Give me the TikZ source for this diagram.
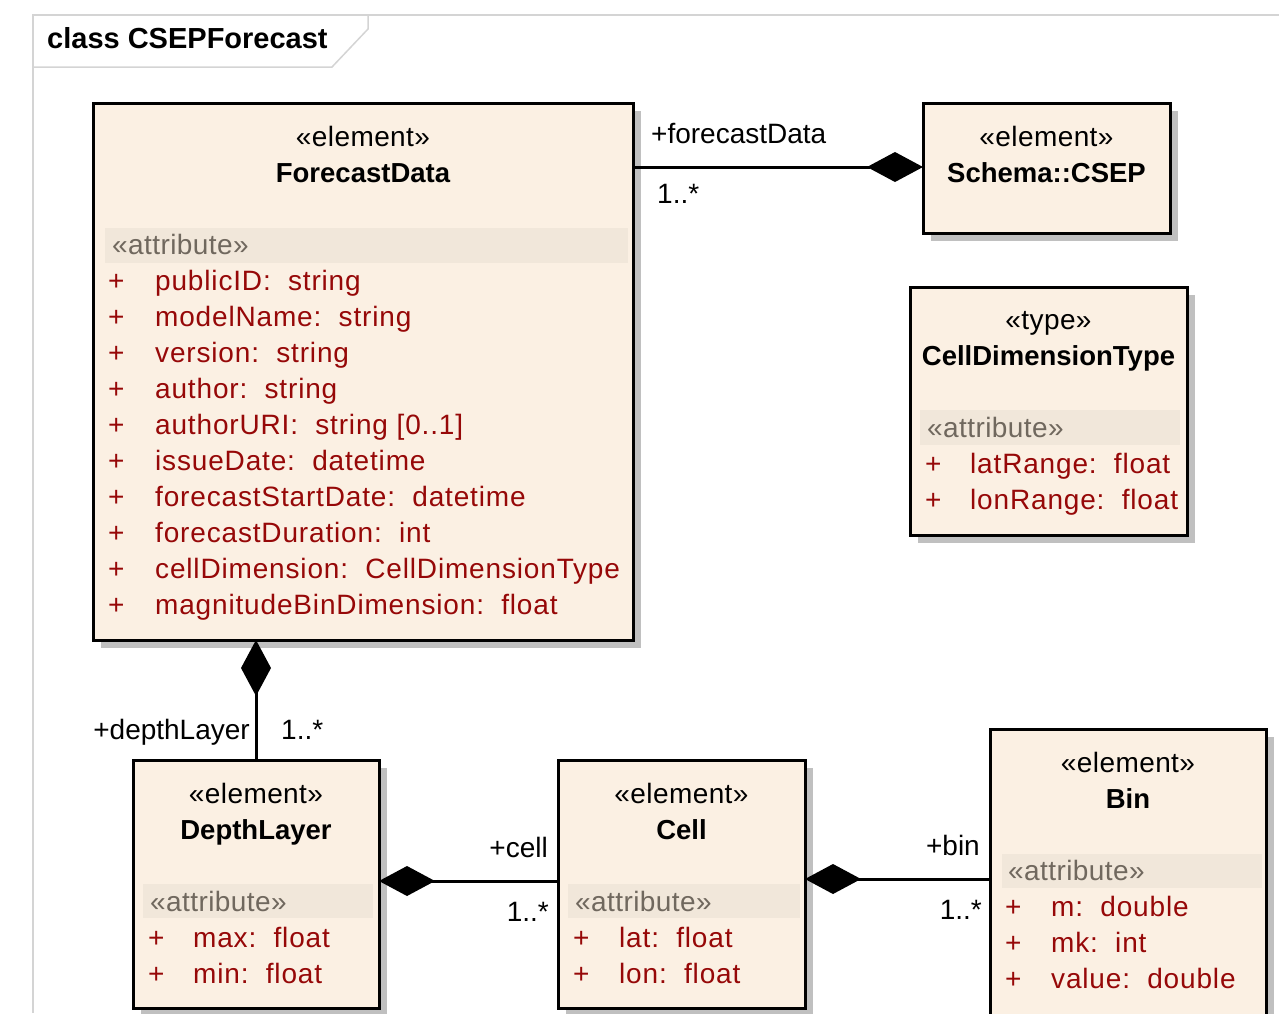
\documentclass[tikz,border=0pt]{standalone}
\usepackage{fontspec}
\setmainfont{Liberation Sans}
\newfontfamily\attrfont[LetterSpace=3.0]{Liberation Sans}
\newfontfamily\stereofont[LetterSpace=1.5]{Liberation Sans}
\usetikzlibrary{arrows.meta,shadows}
\definecolor{boxfill}{RGB}{251,240,227}
\definecolor{bandfill}{RGB}{241,231,218}
\definecolor{attrred}{RGB}{150,8,8}
\definecolor{attrgray}{RGB}{112,104,94}
\definecolor{shadowgray}{RGB}{192,192,192}
\definecolor{framegray}{RGB}{212,212,212}
\newcommand{\rowsize}{\fontsize{28}{32}\selectfont}
\newcommand{\namesize}{\fontsize{27.5}{32}\selectfont\bfseries}

\begin{document}
\begin{tikzpicture}[x=1pt,y=-1pt,
  classbox/.style={draw=black,line width=3pt,fill=boxfill,inner sep=0pt,outer sep=0pt,anchor=north west,
    drop shadow={shadow xshift=8pt,shadow yshift=-8pt,fill=shadowgray,opacity=1}},
  band/.style={fill=bandfill,draw=none,inner sep=0pt,outer sep=0pt,anchor=north west},
  stereo/.style={font=\stereofont\rowsize,anchor=base},
  cname/.style={font=\namesize,anchor=base},
  attrhead/.style={font=\stereofont\rowsize,text=attrgray,anchor=base west,inner sep=0pt},
  attrsign/.style={font=\rowsize,text=attrred,anchor=base west,inner sep=0pt},
  attr/.style={font=\attrfont\rowsize,text=attrred,anchor=base west,inner sep=0pt},
  role/.style={font=\rowsize,inner sep=0pt},
  compose/.style={line width=3pt,-{Diamond[length=56pt,width=30pt]}}]
\useasboundingbox (0,0) rectangle (1279,1013);
\clip (0,0) rectangle (1279,1013);

% diagram frame
\draw[framegray,line width=1.5pt] (1279,15) -- (33,15) -- (33,1013);
\draw[framegray,line width=1.5pt] (33,67) -- (332,67) -- (368,29) -- (368,15);
\node[font=\fontsize{29}{32}\selectfont\bfseries,anchor=base west,inner sep=0pt] (title) at (47,48.5) {class CSEPForecast};

% ForecastData
\node[classbox,minimum width=540,minimum height=537] (fcast) at (93,103) {};
\node[stereo] (fcast-st) at (363,146) {«element»};
\node[cname] (fcast-nm) at (363,182) {ForecastData};
\node[band,minimum width=523,minimum height=35] (fcast-band) at (105,228) {};
\node[attrhead] (fcast-ah) at (112,254) {«attribute»};
\foreach \txt [count=\i from 0] in {{publicID:\ \ string},{modelName:\ \ string},{version:\ \ string},
  {author:\ \ string},{authorURI:\ \ string [0..1]},{issueDate:\ \ datetime},
  {forecastStartDate:\ \ datetime},{forecastDuration:\ \ int},
  {cellDimension:\ \ CellDimensionType},{magnitudeBinDimension:\ \ float}}{
  \node[attrsign] (fcast-p\i) at (108,290+36*\i) {+};
  \node[attr] (fcast-a\i) at (155,290+36*\i) {\txt};
}

% Schema::CSEP
\node[classbox,minimum width=247,minimum height=130] (schema) at (923,103) {};
\node[stereo] (schema-st) at (1046.5,146) {«element»};
\node[cname] (schema-nm) at (1046.5,182) {Schema::CSEP};

% CellDimensionType
\node[classbox,minimum width=277,minimum height=248] (celldim) at (910,287) {};
\node[stereo] (celldim-st) at (1048.5,329) {«type»};
\node[cname] (celldim-nm) at (1048.5,365) {CellDimensionType};
\node[band,minimum width=260,minimum height=35] (celldim-band) at (920,410) {};
\node[attrhead] (celldim-ah) at (927,437) {«attribute»};
\foreach \txt [count=\i from 0] in {{latRange:\ \ float},{lonRange:\ \ float}}{
  \node[attrsign] (celldim-p\i) at (925,473+36*\i) {+};
  \node[attr] (celldim-a\i) at (970,473+36*\i) {\txt};
}

% DepthLayer
\node[classbox,minimum width=246,minimum height=248] (depth) at (133,760) {};
\node[stereo] (depth-st) at (256,803) {«element»};
\node[cname] (depth-nm) at (256,839) {DepthLayer};
\node[band,minimum width=230,minimum height=34] (depth-band) at (143,884) {};
\node[attrhead] (depth-ah) at (150,911) {«attribute»};
\foreach \txt [count=\i from 0] in {{max:\ \ float},{min:\ \ float}}{
  \node[attrsign] (depth-p\i) at (148,947+36*\i) {+};
  \node[attr] (depth-a\i) at (193,947+36*\i) {\txt};
}

% Cell
\node[classbox,minimum width=247,minimum height=248] (cell) at (558,760) {};
\node[stereo] (cell-st) at (681.5,803) {«element»};
\node[cname] (cell-nm) at (681.5,839) {Cell};
\node[band,minimum width=232,minimum height=34] (cell-band) at (568,884) {};
\node[attrhead] (cell-ah) at (575,911) {«attribute»};
\foreach \txt [count=\i from 0] in {{lat:\ \ float},{lon:\ \ float}}{
  \node[attrsign] (cell-p\i) at (573,947+36*\i) {+};
  \node[attr] (cell-a\i) at (619,947+36*\i) {\txt};
}

% Bin
\node[classbox,minimum width=276,minimum height=301] (bin) at (990,729) {};
\node[stereo] (bin-st) at (1128,772) {«element»};
\node[cname] (bin-nm) at (1128,808) {Bin};
\node[band,minimum width=260,minimum height=34] (bin-band) at (1002,854) {};
\node[attrhead] (bin-ah) at (1008,880) {«attribute»};
\foreach \txt [count=\i from 0] in {{m:\ \ double},{mk:\ \ int},{value:\ \ double}}{
  \node[attrsign] (bin-p\i) at (1005,916+36*\i) {+};
  \node[attr] (bin-a\i) at (1051,916+36*\i) {\txt};
}

% compositions
\coordinate (fcastjoin) at ([yshift=-64pt]fcast.north east);
\draw[compose] (fcastjoin) -- (fcastjoin -| schema.west);
\node[role,anchor=base west] (r-fd) at (651,143) {+forecastData};
\node[role,anchor=base west] (m-fd) at (657,203) {1..*};

\draw[compose] (depth.north) -- (depth.north |- fcast.south);
\node[role,anchor=base east] (r-dl) at (250,739) {+depthLayer};
\node[role,anchor=base west] (m-dl) at (281,739) {1..*};

\coordinate (celljoin) at ([yshift=3pt]cell.west);
\draw[compose] (celljoin) -- (celljoin -| depth.east);
\node[role,anchor=base east] (r-cl) at (548,857) {+cell};
\node[role,anchor=base east] (m-cl) at (549,921) {1..*};

\coordinate (binjoin) at ([yshift=-150pt]bin.north west);
\draw[compose] (binjoin) -- (binjoin -| cell.east);
\node[role,anchor=base east] (r-bn) at (980,855) {+bin};
\node[role,anchor=base east] (m-bn) at (982,919) {1..*};
\end{tikzpicture}
\end{document}
